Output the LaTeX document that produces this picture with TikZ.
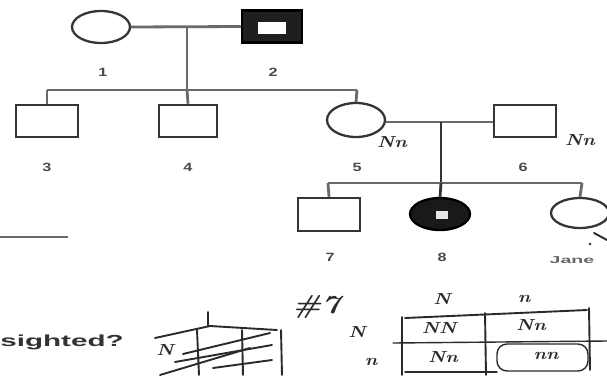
\documentclass[tikz,border=0pt]{standalone}
\usepackage{fontspec}
\newfontfamily\labelfont{Liberation Sans}
\usetikzlibrary{shapes.geometric}
\definecolor{linegray}{HTML}{6A6A6A}
\definecolor{outgray}{HTML}{353535}
\definecolor{labgray}{HTML}{4A4A4A}
\definecolor{hand}{HTML}{2A2A2A}
\begin{document}
\begin{tikzpicture}[x=1pt,y=-1pt,
  pline/.style={draw=linegray,line width=2.8pt},
  male/.style={draw=outgray,line width=2.5pt,rectangle,minimum width=60pt,minimum height=32pt,inner sep=0pt},
  female/.style={draw=outgray,line width=2.3pt,ellipse,minimum width=58pt,minimum height=32pt,inner sep=0pt},
  lab/.style={text=labgray,font=\labelfont\bfseries\fontsize{12}{12}\selectfont,xscale=1.35,inner sep=0pt},
  hw/.style={text=hand,font=\bfseries\itshape\fontsize{16}{16}\selectfont,xscale=1.2,inner sep=0pt},
  hline/.style={draw=hand,line width=1.9pt,line cap=round}]
\useasboundingbox (0,0) rectangle (607,375);
% generation I
\node[female] (p1) at (101,27) {};
\node[male,fill=black!88,draw=black] (p2) at (272,26.5) {};
\node[fill=white,minimum width=28pt,minimum height=12pt,inner sep=0pt] (p2i) at (272,28) {};
\coordinate (m1) at (187,27);
\coordinate (s1) at (187,90);
\coordinate (s1l) at (47,90);
\coordinate (s1r) at (357,90);
\draw[pline] (p1.east) -- (p2.west);
\draw[pline] (m1) -- (s1);
\draw[pline] (s1l) -- (s1r);
% generation II
\node[male,minimum width=62pt] (p3) at (47,121) {};
\node[male,minimum width=58pt] (p4) at (188,121) {};
\node[female,minimum height=34pt] (p5) at (356,120) {};
\node[male,minimum width=62pt] (p6) at (525,121) {};
\draw[pline] (s1l) -- (p3.north);
\draw[pline] (s1) -- (p4.north);
\draw[pline] (s1r) -- (p5.north);
\coordinate (m2) at (441,122);
\coordinate (s2) at (441,183);
\coordinate (s2l) at (328,183);
\coordinate (s2r) at (582,183);
\draw[pline] (p5.east |- m2) -- (p6.west |- m2);
\draw[pline,draw=outgray] (m2) -- (s2);
\draw[pline] (s2l) -- (s2r);
% generation III
\node[male,minimum width=62pt,minimum height=33pt] (p7) at (329,214.5) {};
\node[female,fill=black!90,draw=black,minimum width=60pt] (p8) at (440,214) {};
\node[fill=white!80!gray,minimum width=12pt,minimum height=8pt,inner sep=0pt] (p8i) at (442,215) {};
\node[female,minimum width=58pt,minimum height=30pt] (p9) at (580,213) {};
\draw[pline] (s2l) -- (p7.north);
\draw[pline,draw=outgray] (s2) -- (p8.north);
\draw[pline] (s2r) -- (p9.north);
% labels
\node[lab] (l1) at (103,72) {1};
\node[lab] (l2) at (273,72) {2};
\node[lab] (l3) at (47,167) {3};
\node[lab] (l4) at (188,167) {4};
\node[lab] (l5) at (357,167) {5};
\node[lab] (l6) at (523,167) {6};
\node[lab] (l7) at (330,257) {7};
\node[lab] (l8) at (442,257) {8};
\node[lab,text=black!60,font=\labelfont\bfseries\fontsize{10}{10}\selectfont,xscale=1.45] (l9) at (572,260) {Jane};
% rule at left
\coordinate (r1) at (0,237);
\coordinate (r2) at (68,237);
\draw[pline] (r1) -- (r2);
% question text
\node[text=black!80,font=\labelfont\bfseries\fontsize{16}{16}\selectfont,xscale=1.85,anchor=west,inner sep=0pt] (q) at (0,342) {sighted?};
% handwriting near pedigree
\node[hw] (h5) at (392,142) {Nn};
\node[hw] (h6) at (580,140) {Nn};
\draw[hline] (594,233) -- (607,240);
\fill[hand] (590,244) circle (1.3);
% left scribbled square
\node[hw] (hl) at (165,350) {N};
\draw[hline] (208,312) -- (208,326);
\draw[hline] (155,338) -- (210,326) -- (277,330);
\draw[hline] (197,330) -- (199,375);
\draw[hline] (242,330) -- (243,375);
\draw[hline] (281,330) -- (282,375);
\draw[hline] (183,354) -- (270,333);
\draw[hline] (175,362) -- (272,345);
\draw[hline] (160,375) -- (250,348);
\draw[hline] (213,368) -- (272,360);
% right Punnett square
\node[hw,font=\bfseries\itshape\fontsize{26}{26}\selectfont] (h7) at (316,307) {\#7};
\node[hw] (rN) at (357,332) {N};
\node[hw] (rn) at (371,362) {n};
\node[hw] (cN) at (442,299) {N};
\node[hw] (cn) at (524,299) {n};
\node[hw] (c11) at (439,328) {NN};
\node[hw] (c12) at (531,325) {Nn};
\node[hw] (c21) at (443,357) {Nn};
\node[hw] (c22) at (546,356) {nn};
\draw[hline] (405,318) -- (587,310);
\draw[hline] (589,308) -- (590,370);
\draw[hline] (485,313) -- (486,375);
\draw[hline] (402,317) -- (402,375);
\draw[hline,line width=1.4pt] (393,343) -- (607,341);
\draw[hline,line width=1.4pt,rounded corners=10pt] (497,344) rectangle (588,371);
\draw[hline,line width=1.4pt] (405,372) -- (497,372);
\end{tikzpicture}
\end{document}
